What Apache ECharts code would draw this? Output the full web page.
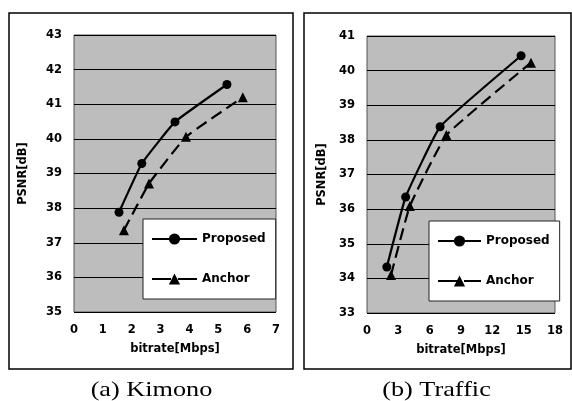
<!DOCTYPE html>
<html>
<head>
<meta charset="utf-8">
<script src="https://cdn.jsdelivr.net/npm/echarts@6/dist/echarts.min.js"></script>
<style>html,body{margin:0;padding:0;background:#fff;}#c{width:572px;height:401px;}</style>
</head>
<body>
<div id="c"></div>
<script>
// Kimono
var kimonoProposedX = [1.56, 2.35, 3.5, 5.3];
var kimonoProposedY = [37.88, 39.29, 40.49, 41.57];
var kimonoAnchorX = [1.73, 2.6, 3.88, 5.85];
var kimonoAnchorY = [37.36, 38.71, 40.06, 41.2];
// Traffic
var trafficProposedX = [1.9, 3.7, 7.0, 14.75];
var trafficProposedY = [34.33, 36.35, 38.38, 40.43];
var trafficAnchorX = [2.3, 4.1, 7.6, 15.7];
var trafficAnchorY = [34.1, 36.09, 38.14, 40.23];

var seriesNames = ['Proposed', 'Anchor'];
var xAxisTitle = 'bitrate[Mbps]';
var yAxisTitle = 'PSNR[dB]';
var captions = ['(a) Kimono', '(b) Traffic'];

function pairs(xs, ys) { return xs.map(function (x, i) { return [x, ys[i]]; }); }

var FONT = 'DejaVu Sans';
var lbl = { color: '#000', fontFamily: FONT, fontWeight: 'bold', fontSize: 11.5 };

function xAx(idx, max, interval) {
  return {
    type: 'value', gridIndex: idx, min: 0, max: max, interval: interval,
    name: xAxisTitle, nameLocation: 'middle', nameGap: 31,
    nameTextStyle: { color: '#000', fontFamily: FONT, fontWeight: 'bold', fontSize: 11.5 },
    axisLine: { show: false }, axisTick: { show: false },
    axisLabel: Object.assign({ margin: 12 }, lbl),
    splitLine: { show: false }
  };
}
function yAx(idx, min, max, gap) {
  return {
    type: 'value', gridIndex: idx, min: min, max: max, interval: 1,
    name: yAxisTitle, nameLocation: 'middle', nameGap: gap, nameRotate: 90,
    nameTextStyle: { color: '#000', fontFamily: FONT, fontWeight: 'bold', fontSize: 11.5 },
    axisLine: { show: false }, axisTick: { show: false },
    axisLabel: Object.assign({ margin: 12 }, lbl),
    splitLine: { show: true, lineStyle: { color: '#000', width: 1 } }
  };
}
function ser(name, idx, data, dashed, symbol, size) {
  return {
    name: name, type: 'line', xAxisIndex: idx, yAxisIndex: idx, data: data,
    smooth: 0.1, symbol: symbol, symbolSize: size,
    lineStyle: { color: '#000', width: 2.2, type: dashed ? [12, 6] : 'solid' },
    itemStyle: { color: '#000' }, z: 5
  };
}
function leg(idx, left, top, width) {
  return {
    data: [
      { name: seriesNames[0] },
      { name: seriesNames[1], lineStyle: { type: [19, 7] } }
    ],
    left: left, top: top, orient: 'vertical',
    itemWidth: width, itemHeight: 14, itemGap: 28,
    padding: [14, 10, 14, 8],
    backgroundColor: '#fff', borderColor: '#222', borderWidth: 1,
    textStyle: { color: '#000', fontFamily: FONT, fontWeight: 'bold', fontSize: 12 },
    selectedMode: false
  };
}

var chart = echarts.init(document.getElementById('c'), null, { renderer: 'canvas' });
chart.setOption({
  animation: false,
  backgroundColor: '#fff',
  grid: [
    { left: 74, top: 35, width: 202, height: 277, show: true, backgroundColor: '#bdbdbd', borderColor: '#555', borderWidth: 1 },
    { left: 367, top: 36, width: 188, height: 277, show: true, backgroundColor: '#bdbdbd', borderColor: '#555', borderWidth: 1 }
  ],
  xAxis: [xAx(0, 7, 1), xAx(1, 18, 3)],
  yAxis: [yAx(0, 35, 43, 45), yAx(1, 33, 41, 39)],
  legend: [leg(0, 143, 219, 45), leg(1, 429, 221, 43)],
  series: [
    ser(seriesNames[0], 0, pairs(kimonoProposedX, kimonoProposedY), false, 'circle', 9),
    ser(seriesNames[1], 0, pairs(kimonoAnchorX, kimonoAnchorY), true, 'triangle', 10),
    ser(seriesNames[0], 1, pairs(trafficProposedX, trafficProposedY), false, 'circle', 9),
    ser(seriesNames[1], 1, pairs(trafficAnchorX, trafficAnchorY), true, 'triangle', 10)
  ],
  graphic: [
    { type: 'rect', shape: { x: 9, y: 13, width: 284, height: 356 }, style: { fill: null, stroke: '#000', lineWidth: 1.5 }, silent: true },
    { type: 'rect', shape: { x: 304, y: 13, width: 267, height: 356 }, style: { fill: null, stroke: '#000', lineWidth: 1.5 }, silent: true },
    { type: 'text', x: 151.5, y: 390, scaleX: 1.25, style: { text: captions[0], fill: '#000', font: '21px "Liberation Serif"', textAlign: 'center', textVerticalAlign: 'middle' } },
    { type: 'text', x: 436.5, y: 390, scaleX: 1.25, style: { text: captions[1], fill: '#000', font: '21px "Liberation Serif"', textAlign: 'center', textVerticalAlign: 'middle' } }
  ]
});
</script>
</body>
</html>
